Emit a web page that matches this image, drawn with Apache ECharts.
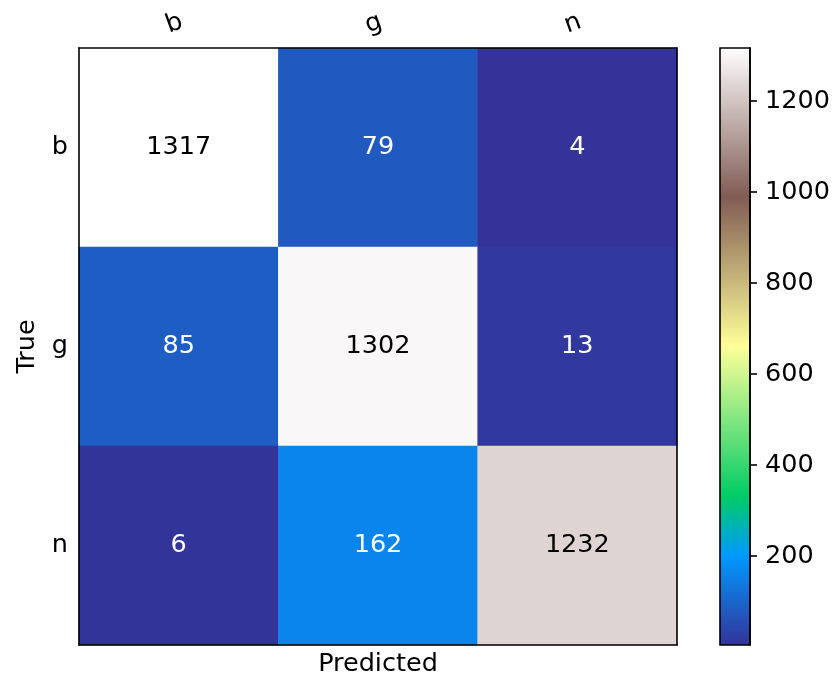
<!DOCTYPE html>
<html>
<head>
<meta charset="utf-8">
<script src="https://cdn.jsdelivr.net/npm/echarts@6/dist/echarts.min.js"></script>
<style>html,body{margin:0;padding:0;background:#fff}#c{width:836px;height:682px}</style>
</head>
<body>
<div id="c"></div>
<script>
// ---- data ----
const predictedLabels = ['b', 'g', 'n'];
const trueLabels = ['b', 'g', 'n'];
const rowB = [1317, 79, 4];
const rowG = [85, 1302, 13];
const rowN = [6, 162, 1232];
const colorbarTicks = [200, 400, 600, 800, 1000, 1200];

// ---- terrain colormap (matplotlib) ----
const terrainStops = [
  [0.00, [0.2, 0.2, 0.6]],
  [0.15, [0.0, 0.6, 1.0]],
  [0.25, [0.0, 0.8, 0.4]],
  [0.50, [1.0, 1.0, 0.6]],
  [0.75, [0.5, 0.36, 0.33]],
  [1.00, [1.0, 1.0, 1.0]]
];
function toHex(c) {
  return '#' + c.map(v => Math.round(v * 255).toString(16).padStart(2, '0')).join('');
}
function terrain(t) {
  for (let i = 0; i < terrainStops.length - 1; i++) {
    const [a, ca] = terrainStops[i], [b, cb] = terrainStops[i + 1];
    if (t <= b + 1e-9) {
      const f = (t - a) / (b - a);
      return toHex(ca.map((v, k) => v + (cb[k] - v) * f));
    }
  }
  return toHex(terrainStops[terrainStops.length - 1][1]);
}
const sampled = [];
for (let i = 0; i <= 20; i++) sampled.push(terrain(i / 20));

const rows = [rowB, rowG, rowN];
const data = [];
rows.forEach((r, yi) => r.forEach((v, xi) => data.push([xi, yi, v])));
const allVals = rows.flat();
const vmin = Math.min(...allVals), vmax = Math.max(...allVals);
const thresh = vmax / 2;

const FONT = 'DejaVu Sans';
const FS = 25.5;
const chart = echarts.init(document.getElementById('c'));
chart.setOption({
  animation: false,
  backgroundColor: '#fff',
  textStyle: { fontFamily: FONT },
  grid: [
    { left: 79, top: 48, width: 598, height: 597 },
    {
      left: 720, top: 48, width: 30, height: 597, show: true,
      borderColor: '#000', borderWidth: 1.6,
      backgroundColor: new echarts.graphic.LinearGradient(0, 1, 0, 0,
        terrainStops.map(s => ({ offset: s[0], color: toHex(s[1]) })))
    }
  ],
  xAxis: [
    {
      type: 'category', data: predictedLabels, gridIndex: 0, position: 'top', z: 10,
      axisLine: { lineStyle: { color: '#000', width: 1.6 } },
      axisTick: { alignWithLabel: true, length: 7, lineStyle: { color: '#000', width: 1.6 } },
      axisLabel: { color: '#000', fontSize: FS, fontFamily: FONT, rotate: -20, margin: 12, align: 'center', verticalAlign: 'bottom' },
      splitLine: { show: false }
    },
    {
      type: 'category', data: predictedLabels, gridIndex: 0, position: 'bottom', z: 10,
      name: 'Predicted', nameLocation: 'middle', nameGap: 6,
      nameTextStyle: { color: '#000', fontSize: FS, fontFamily: FONT, verticalAlign: 'top' },
      axisLine: { lineStyle: { color: '#000', width: 1.6 } },
      axisTick: { alignWithLabel: true, length: 7, lineStyle: { color: '#000', width: 1.6 } },
      axisLabel: { show: false },
      splitLine: { show: false }
    },
    { type: 'value', gridIndex: 1, show: false, min: 0, max: 1 }
  ],
  yAxis: [
    {
      type: 'category', data: trueLabels, gridIndex: 0, inverse: true, position: 'left', z: 10,
      name: 'True', nameLocation: 'middle', nameGap: 39, nameRotate: 90,
      nameTextStyle: { color: '#000', fontSize: FS, fontFamily: FONT },
      axisLine: { lineStyle: { color: '#000', width: 1.6 } },
      axisTick: { alignWithLabel: true, length: 7, lineStyle: { color: '#000', width: 1.6 } },
      axisLabel: { color: '#000', fontSize: FS, fontFamily: FONT, margin: 11 },
      splitLine: { show: false }
    },
    {
      type: 'category', data: trueLabels, gridIndex: 0, inverse: true, position: 'right', z: 10,
      axisLine: { lineStyle: { color: '#000', width: 1.6 } },
      axisTick: { show: false }, axisLabel: { show: false }, splitLine: { show: false }
    },
    {
      type: 'value', gridIndex: 1, position: 'right', min: vmin, max: vmax, z: 10,
      axisLine: { show: true, onZero: false, lineStyle: { color: '#000', width: 1.6 } },
      axisTick: { show: true, inside: false, length: 7, customValues: colorbarTicks, lineStyle: { color: '#000', width: 1.6 } },
      axisLabel: { color: '#000', fontSize: FS, fontFamily: FONT, margin: 15, customValues: colorbarTicks, formatter: v => String(v) },
      splitLine: { show: false }
    }
  ],
  visualMap: {
    show: false, type: 'continuous', min: vmin, max: vmax, seriesIndex: 0,
    inRange: { color: sampled }
  },
  series: [{
    type: 'heatmap', xAxisIndex: 0, yAxisIndex: 0,
    data: data.map(d => ({ value: d, label: { color: d[2] > thresh ? '#000' : '#fff' } })),
    label: {
      show: true, fontSize: FS, fontFamily: FONT,
      formatter: p => String(p.value[2])
    },
    itemStyle: { borderWidth: 0 },
    emphasis: { disabled: true }
  }]
});
</script>
</body>
</html>
